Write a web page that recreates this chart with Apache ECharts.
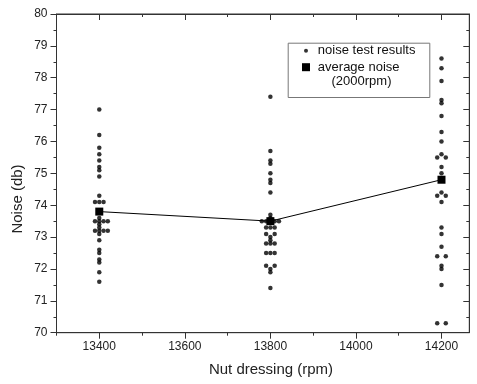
<!DOCTYPE html>
<html><head><meta charset="utf-8">
<script src="https://cdn.jsdelivr.net/npm/echarts@6/dist/echarts.min.js"></script>
<style>html,body{margin:0;padding:0;background:#fff}#c{width:477px;height:384px}</style>
</head><body><div id="c"></div>
<script>
const rpmTicks = [13400, 13600, 13800, 14000, 14200];
const rpmMinorTicks = [13300, 13500, 13700, 13900, 14100];
const avgRpm = [13400, 13800, 14200];
const avgNoise = [73.8, 73.5, 74.8];
const results13400 = [[13400,77.0],[13400,76.2],[13400,75.8],[13400,75.6],[13400,75.4],[13400,75.2],[13400,75.1],[13400,74.9],[13400,74.3],[13390,74.1],[13400,74.1],[13410,74.1],[13400,73.6],[13390,73.5],[13400,73.5],[13410,73.5],[13420,73.5],[13400,73.4],[13400,73.3],[13390,73.2],[13400,73.2],[13410,73.2],[13420,73.2],[13400,73.1],[13400,72.9],[13400,72.6],[13400,72.5],[13400,72.3],[13400,72.2],[13400,71.9],[13400,71.6]];
const results13800 = [[13800,77.4],[13800,75.7],[13800,75.4],[13800,75.3],[13800,75.0],[13800,74.8],[13800,74.7],[13800,74.4],[13800,73.7],[13800,73.6],[13780,73.5],[13790,73.5],[13810,73.5],[13820,73.5],[13790,73.3],[13800,73.3],[13810,73.3],[13790,73.1],[13810,73.1],[13800,73.0],[13800,72.9],[13790,72.8],[13800,72.8],[13810,72.8],[13790,72.5],[13800,72.5],[13810,72.5],[13790,72.1],[13810,72.1],[13800,72.0],[13800,71.9],[13800,71.4]];
const results14200 = [[14200,78.6],[14200,78.3],[14200,77.9],[14200,77.3],[14200,77.2],[14200,76.8],[14200,76.3],[14200,76.0],[14200,75.6],[14190,75.5],[14210,75.5],[14200,75.2],[14200,75.0],[14200,74.4],[14190,74.3],[14210,74.3],[14200,74.1],[14200,73.3],[14200,73.1],[14200,72.7],[14190,72.4],[14210,72.4],[14200,72.1],[14200,72.0],[14200,71.5],[14190,70.3],[14210,70.3]];

const FONT = 'Liberation Sans, Arial, sans-serif';
const AX = '#333';
const chart = echarts.init(document.getElementById('c'), null, {renderer: 'canvas'});
const xBase = {type:'value', min:13300, max:14265, scale:true, splitLine:{show:false}};
chart.setOption({
  animation:false,
  backgroundColor:'#fff',
  grid:{left:56.5, right:7.7, top:14, bottom:51.3, show:true, borderColor:AX, borderWidth:1, backgroundColor:'transparent'},
  xAxis:[
    Object.assign({}, xBase, {position:'bottom',
      axisLine:{show:true, lineStyle:{color:AX}},
      axisTick:{show:true, inside:false, length:6, customValues:rpmTicks, lineStyle:{color:AX}},
      axisLabel:{show:true, customValues:rpmTicks, margin:8, fontFamily:FONT, fontSize:12, color:'#222', formatter:v=>String(v)}}),
    Object.assign({}, xBase, {position:'bottom',
      axisLine:{show:false}, axisTick:{show:true, inside:false, length:3, customValues:rpmMinorTicks, lineStyle:{color:AX}},
      axisLabel:{show:false}}),
    Object.assign({}, xBase, {position:'top',
      axisLine:{show:true, lineStyle:{color:AX}}, axisTick:{show:true, inside:true, length:6, customValues:rpmTicks, lineStyle:{color:AX}},
      axisLabel:{show:false}}),
    Object.assign({}, xBase, {position:'top',
      axisLine:{show:false}, axisTick:{show:true, inside:true, length:3, customValues:rpmMinorTicks, lineStyle:{color:AX}},
      axisLabel:{show:false}})
  ],
  yAxis:[
    {type:'value', min:70, max:80, interval:1, position:'left',
      splitLine:{show:false},
      axisLine:{show:true, lineStyle:{color:AX}},
      axisTick:{show:true, inside:false, length:6, lineStyle:{color:AX}},
      minorTick:{show:true, splitNumber:2, length:3, lineStyle:{color:AX}},
      axisLabel:{margin:9, fontFamily:FONT, fontSize:12, color:'#222'}},
    {type:'value', min:70, max:80, interval:1, position:'right', splitLine:{show:false},
      axisLine:{show:true, lineStyle:{color:AX}},
      axisTick:{show:true, inside:true, length:6, lineStyle:{color:AX}},
      minorTick:{show:true, splitNumber:2, length:3, lineStyle:{color:AX}},
      axisLabel:{show:false}}
  ],
  legend:{show:true, orient:'vertical', left:302, top:43.3, padding:0, itemGap:1.4, itemWidth:13.7, itemHeight:8, symbolKeepAspect:true,
    textStyle:{fontFamily:FONT, fontSize:13, color:'#111', lineHeight:15},
    data:[{name:'noise test results', icon:'path://M0,0a2,2 0 1,0 4,0a2,2 0 1,0 -4,0zM-2,-4h0M6,4h0', itemStyle:{color:'#000'}},
          {name:'average noise', icon:'path://M0,0h8v8h-8z', itemStyle:{color:'#000'}}]},
  graphic:[
    {type:'rect', left:285.7, top:40.7, shape:{width:141.6, height:54.3}, style:{fill:'none', stroke:'#777', lineWidth:1}, z:1},
    {type:'text', x:331.5, y:81.5, style:{text:'(2000rpm)', font:'13px Liberation Sans, Arial, sans-serif', fill:'#111', verticalAlign:'middle'}, z:5},
    {type:'text', x:271, y:370, style:{text:'Nut dressing (rpm)', font:'15px Liberation Sans, Arial, sans-serif', fill:'#222', align:'center', verticalAlign:'middle'}},
    {type:'text', x:18, y:199, rotation:Math.PI/2, style:{text:'Noise (db)', font:'15px Liberation Sans, Arial, sans-serif', fill:'#222', align:'center', verticalAlign:'middle'}}
  ],
  series:[
    {name:'noise test results', type:'scatter', symbol:'circle', symbolSize:4.5, itemStyle:{color:'#000'},
      data: results13400.concat(results13800, results14200), z:3},
    {name:'average noise', type:'line', symbol:'rect', symbolSize:8, showAllSymbol:true,
      lineStyle:{color:'#000', width:1}, itemStyle:{color:'#000'},
      data: avgRpm.map((r,i)=>[r, avgNoise[i]]), z:4}
  ]
});
</script></body></html>
